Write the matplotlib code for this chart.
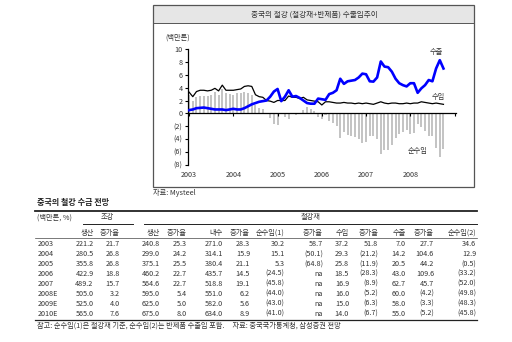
import matplotlib
matplotlib.use("Agg")
import matplotlib.pyplot as plt
from matplotlib.lines import Line2D
from matplotlib.patches import Rectangle

plt.rcParams['font.family'] = ['Noto Sans CJK KR', 'DejaVu Sans']

# monthly series Jan 2003 - Oct 2008 (million tonnes)
exports = [0.5, 0.6, 0.8, 0.85, 0.9, 0.8, 0.7, 0.6, 0.6, 0.6, 0.5, 0.6,
           0.7, 0.6, 0.6, 0.8, 1.1, 1.4, 1.6, 1.8, 1.9, 2.0, 2.6, 3.4,
           3.8, 1.9, 2.6, 3.6, 2.6, 2.7, 2.4, 2.0, 1.6, 1.5, 1.5, 2.3,
           2.2, 2.1, 3.0, 3.2, 3.6, 5.4, 4.6, 5.0, 5.1, 5.2, 5.6, 6.2,
           6.1, 5.0, 4.95, 5.6, 8.1, 7.3, 7.2, 6.5, 5.4, 4.7, 4.4, 4.2,
           4.7, 4.7, 3.2, 3.9, 4.4, 5.2, 5.0, 7.0, 8.3, 7.0]
imports = [3.3, 2.6, 3.4, 3.6, 3.6, 3.5, 3.6, 3.9, 3.5, 4.4, 3.6, 3.6,
           3.6, 3.7, 3.8, 4.2, 4.3, 4.2, 2.9, 2.6, 2.5, 2.0, 1.9, 1.7,
           2.0, 2.0, 2.0, 2.7, 2.5, 2.5, 2.3, 2.5, 2.1, 2.0, 1.9, 1.8,
           1.3, 1.8, 1.8, 1.7, 1.6, 1.6, 1.7, 1.6, 1.6, 1.5, 1.6, 1.5,
           1.6, 1.5, 1.4, 1.6, 1.8, 1.6, 1.5, 1.6, 1.6, 1.5, 1.5, 1.6,
           1.5, 1.6, 1.6, 1.8, 1.7, 1.6, 1.5, 1.6, 1.5, 1.4]
net_imports = [2.8, 2.0, 2.6, 2.7, 2.7, 2.7, 2.9, 3.3, 2.9, 3.8, 3.1, 3.0,
               2.9, 3.1, 3.2, 3.4, 3.2, 2.8, 1.3, 0.8, 0.6, 0.0, -0.7, -1.7,
               -1.8, 0.1, -0.6, -0.9, -0.1, -0.2, -0.1, 0.5, 1.0, 0.7, 0.4, -0.5,
               -0.9, -0.3, -1.2, -1.5, -2.0, -3.8, -2.9, -3.4, -3.5, -3.7, -4.0, -4.7,
               -4.5, -3.5, -3.55, -4.0, -6.3, -5.7, -5.7, -4.9, -3.8, -3.2, -2.9, -2.6,
               -3.2, -3.1, -1.6, -2.1, -2.7, -3.6, -3.5, -5.4, -6.8, -5.6]
year_labels = ['2003', '2004', '2005', '2006', '2007', '2008']
ytick_vals = [10, 8, 6, 4, 2, 0, -2, -4, -6, -8]
ytick_labels = ['10', '8', '6', '4', '2', '0', '(2)', '(4)', '(6)', '(8)']

# table
years = ['2003', '2004', '2005', '2006', '2007', '2008E', '2009E', '2010E']
crude_prod = [221.2, 280.5, 355.8, 422.9, 489.2, 505.0, 525.0, 565.0]
crude_g = [21.7, 26.8, 26.8, 18.8, 15.7, 3.2, 4.0, 7.6]
steel_prod = [240.8, 299.0, 375.1, 460.2, 564.6, 595.0, 625.0, 675.0]
steel_prod_g = [25.3, 24.2, 25.5, 22.7, 22.7, 5.4, 5.0, 8.0]
demand = [271.0, 314.1, 380.4, 435.7, 518.8, 551.0, 582.0, 634.0]
demand_g = [28.3, 15.9, 21.1, 14.5, 19.1, 6.2, 5.6, 8.9]
net1 = [30.2, 15.1, 5.3, -24.5, -45.8, -44.0, -43.0, -41.0]
net1_g = [58.7, -50.1, -64.8, None, None, None, None, None]
steel_imp = [37.2, 29.3, 25.8, 18.5, 16.9, 16.0, 15.0, 14.0]
steel_imp_g = [51.8, -21.2, -11.9, -28.3, -8.9, -5.2, -6.3, -6.7]
steel_exp = [7.0, 14.2, 20.5, 43.0, 62.7, 60.0, 58.0, 55.0]
steel_exp_g = [27.7, 104.6, 44.2, 109.6, 45.7, -4.2, -3.3, -5.2]
net2 = [34.6, 12.9, -0.5, -33.2, -52.0, -49.8, -48.3, -45.8]
col_headers = ['생산', '증가율', '생산', '증가율', '내수', '증가율', '순수입(1)',
               '증가율', '수입', '증가율', '수출', '증가율', '순수입(2)']

W, H = 512, 342


def fx(x):
    return x / W


def fy(y):
    return 1 - y / H


def fmt(v):
    if v is None:
        return 'na'
    if v < 0:
        return '(%.1f)' % -v
    return '%.1f' % v


fig = plt.figure(figsize=(W / 100, H / 100), dpi=100)
txt = '#333333'

# chart frame + title bar
fig.add_artist(Rectangle((fx(153), fy(23)), fx(474) - fx(153), fy(5) - fy(23),
                         transform=fig.transFigure, facecolor='#e6e6e6',
                         edgecolor='none'))
fig.add_artist(Rectangle((fx(153), fy(187)), fx(474) - fx(153), fy(5) - fy(187),
                         transform=fig.transFigure, facecolor='none',
                         edgecolor='#555555', linewidth=0.9))
fig.add_artist(Line2D([fx(153), fx(474)], [fy(23), fy(23)], color='#555555', lw=0.7))
fig.text(fx(314), fy(15), '중국의 철강 (철강재+반제품) 수출입추이', ha='center', va='center',
         fontsize=5.5, color=txt)
fig.text(fx(178), fy(38), '(백만톤)', ha='center', va='center', fontsize=5.2, color=txt)
fig.text(fx(153), fy(193), '자료: Mysteel', ha='left', va='center', fontsize=5.2, color=txt)

ax = fig.add_axes([fx(188), fy(164.5), fx(456) - fx(188), fy(49.3) - fy(164.5)])
months = list(range(len(exports)))
ax.bar(months, net_imports, width=0.55, color='#c4c4c4', zorder=1)
ax.plot(months, imports, color='black', lw=0.9, zorder=2)
ax.plot(months, exports, color='#0000ff', lw=1.9, zorder=3)
ax.set_xlim(-0.3, 72.4)
ax.set_ylim(-8, 10)
ax.set_yticks(ytick_vals)
ax.set_yticklabels(ytick_labels, fontsize=5.2, color=txt)
ax.set_xticks([0, 12, 24, 36, 48, 60, 72])
ax.set_xticklabels([])
ax.tick_params(axis='y', length=2.5, width=0.8, pad=1.5)
ax.tick_params(axis='x', length=2.5, width=0.8, direction='out')
ax.spines['top'].set_visible(False)
ax.spines['right'].set_visible(False)
ax.spines['bottom'].set_position(('data', 0))
ax.spines['left'].set_linewidth(0.9)
ax.spines['bottom'].set_linewidth(0.9)
ax.patch.set_alpha(0)
for i, lab in enumerate(year_labels):
    ax.text(i * 12, -9.6, lab, ha='center', va='center', fontsize=5.2, color=txt,
            clip_on=False)
ax.text(67, 9.6, '수출', ha='center', va='center', fontsize=5.2, color=txt)
ax.text(67.5, 2.6, '수입', ha='center', va='center', fontsize=5.2, color=txt)
ax.text(62, -5.9, '순수입', ha='center', va='center', fontsize=5.2, color=txt)

# table
fig.text(fx(37), fy(203), '중국의 철강 수급 전망', ha='left', va='center', fontsize=5.8,
         fontweight='bold', color='#222222')
fig.add_artist(Line2D([fx(35), fx(477)], [fy(211), fy(211)], color='#222222', lw=1.3))
fig.add_artist(Line2D([fx(83), fx(133)], [fy(223.5), fy(223.5)], color='#222222', lw=0.7))
fig.add_artist(Line2D([fx(144), fx(477)], [fy(223.5), fy(223.5)], color='#222222', lw=0.7))
fig.add_artist(Line2D([fx(35), fx(477)], [fy(237.5), fy(237.5)], color='#444444', lw=0.5))
fig.add_artist(Line2D([fx(35), fx(477)], [fy(319.5), fy(319.5)], color='#222222', lw=0.9))

fig.text(fx(37), fy(218), '(백만톤, %)', ha='left', va='center', fontsize=5.2, color=txt)
fig.text(fx(107), fy(217.5), '조강', ha='center', va='center', fontsize=5.2, color=txt)
fig.text(fx(311), fy(217.5), '철강재', ha='center', va='center', fontsize=5.2, color=txt)

col_right = [93.5, 119.5, 160, 187, 223, 250, 284.5, 323, 349, 378.5, 406, 434, 476]
for xr, h in zip(col_right, col_headers):
    fig.text(fx(xr), fy(232.5), h, ha='right', va='center', fontsize=5.2, color=txt)

columns = [crude_prod, crude_g, steel_prod, steel_prod_g, demand, demand_g, net1,
           net1_g, steel_imp, steel_imp_g, steel_exp, steel_exp_g, net2]
for i, yr in enumerate(years):
    yy = fy(244.3 + 9.9 * i)
    fig.text(fx(38), yy, yr, ha='left', va='center', fontsize=5.2, color=txt)
    for xr, col in zip(col_right, columns):
        fig.text(fx(xr), yy, fmt(col[i]), ha='right', va='center', fontsize=5.2, color=txt)

fig.text(fx(37), fy(325.5),
         '참고: 순수입(1)은 철강재 기준, 순수입(2)는 반제품 수출입 포함.     자료: 중국국가통계청, 삼성증권 전망',
         ha='left', va='center', fontsize=5.2, color=txt)

fig.savefig('out.png', dpi=100, facecolor='white')
